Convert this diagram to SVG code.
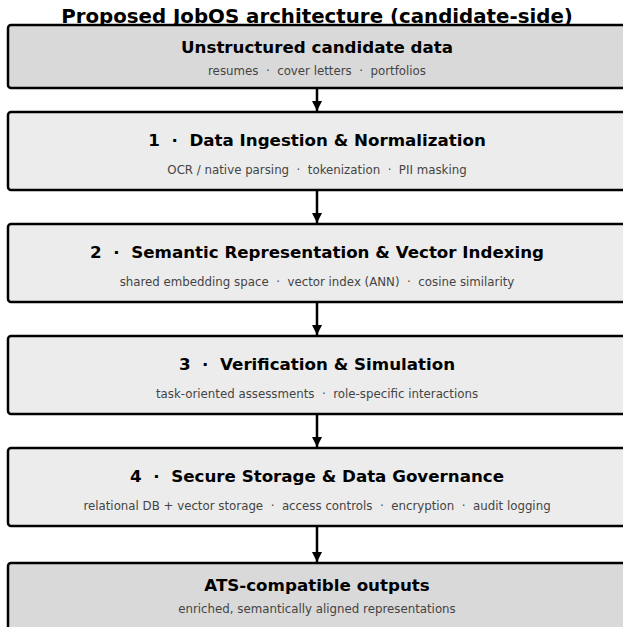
<svg xmlns="http://www.w3.org/2000/svg" width="623" height="627" viewBox="0 0 623 627">
<style>
.box{stroke:#000;stroke-width:2.5}
.io{fill:#d9d9d9}
.st{fill:#ececec}
text{white-space:pre}
.h{font-family:"DejaVu Sans",sans-serif;font-weight:bold;font-size:16.7px;fill:#000;text-anchor:middle}
.s{font-family:"DejaVu Sans",sans-serif;font-size:11.8px;fill:#444;text-anchor:middle}
.t{font-family:"DejaVu Sans",sans-serif;font-weight:bold;font-size:19.8px;fill:#000;text-anchor:middle}
.c{stroke:#000;stroke-width:2.5;fill:none}
</style>
<defs>
<marker id="ah" viewBox="0 0 10 10" refX="10" refY="5" markerWidth="4" markerHeight="4" orient="auto" markerUnits="strokeWidth">
<path d="M0,0 L10,5 L0,10 z" fill="#000"/>
</marker>
</defs>
<rect width="623" height="627" fill="#fff"/>
<text class="t" x="317" y="23">Proposed JobOS architecture (candidate-side)</text>
<g id="connectors">
<line class="c" x1="317" y1="88" x2="317" y2="111" marker-end="url(#ah)"/>
<line class="c" x1="317" y1="190" x2="317" y2="223" marker-end="url(#ah)"/>
<line class="c" x1="317" y1="302" x2="317" y2="335" marker-end="url(#ah)"/>
<line class="c" x1="317" y1="414" x2="317" y2="447" marker-end="url(#ah)"/>
<line class="c" x1="317" y1="526" x2="317" y2="562" marker-end="url(#ah)"/>
</g>
<g id="input">
<rect class="box io" x="8" y="25" width="630" height="63" rx="3"/>
<text class="h" x="317" y="53">Unstructured candidate data</text>
<text class="s" x="317" y="75" xml:space="preserve">resumes  ·  cover letters  ·  portfolios</text>
</g>
<g id="stage1">
<rect class="box st" x="8" y="112" width="630" height="78" rx="3"/>
<text class="h" x="317" y="146" xml:space="preserve">1  ·  Data Ingestion &amp; Normalization</text>
<text class="s" x="317" y="174" xml:space="preserve">OCR / native parsing  ·  tokenization  ·  PII masking</text>
</g>
<g id="stage2">
<rect class="box st" x="8" y="224" width="630" height="78" rx="3"/>
<text class="h" x="317" y="258" xml:space="preserve">2  ·  Semantic Representation &amp; Vector Indexing</text>
<text class="s" x="317" y="286" xml:space="preserve">shared embedding space  ·  vector index (ANN)  ·  cosine similarity</text>
</g>
<g id="stage3">
<rect class="box st" x="8" y="336" width="630" height="78" rx="3"/>
<text class="h" x="317" y="370" xml:space="preserve">3  ·  Verification &amp; Simulation</text>
<text class="s" x="317" y="398" xml:space="preserve">task-oriented assessments  ·  role-specific interactions</text>
</g>
<g id="stage4">
<rect class="box st" x="8" y="448" width="630" height="78" rx="3"/>
<text class="h" x="317" y="482" xml:space="preserve">4  ·  Secure Storage &amp; Data Governance</text>
<text class="s" x="317" y="510" xml:space="preserve">relational DB + vector storage  ·  access controls  ·  encryption  ·  audit logging</text>
</g>
<g id="output">
<rect class="box io" x="8" y="563" width="630" height="80" rx="3"/>
<text class="h" x="317" y="591">ATS-compatible outputs</text>
<text class="s" x="317" y="613">enriched, semantically aligned representations</text>
</g>
</svg>
